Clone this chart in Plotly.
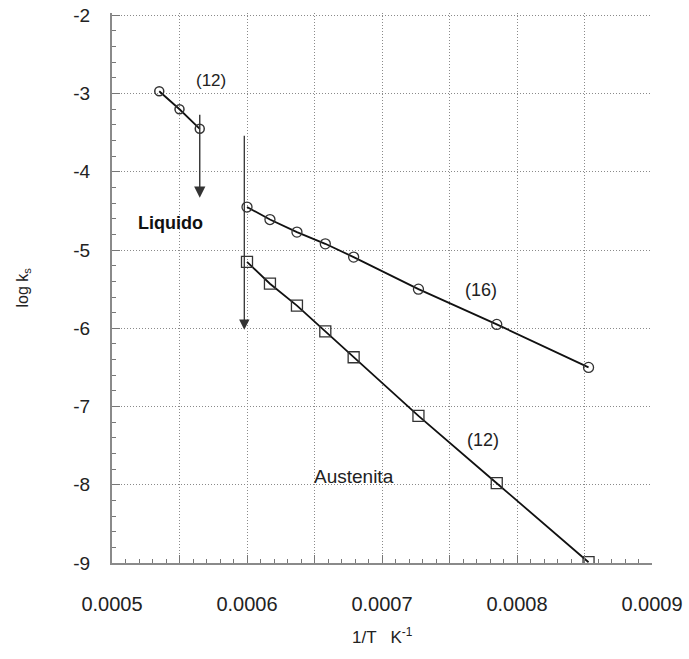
import plotly.graph_objects as go

# ---- data ----
liq_x = [0.000535, 0.00055, 0.000565]
liq_y = [-2.97, -3.20, -3.45]

s16_x = [0.0006, 0.000617, 0.000637, 0.000658, 0.000679, 0.000727, 0.000785, 0.000853]
s16_y = [-4.45, -4.61, -4.77, -4.92, -5.09, -5.50, -5.95, -6.50]

aus_x = [0.0006, 0.000617, 0.000637, 0.000658, 0.000679, 0.000727, 0.000785, 0.000853]
aus_y = [-5.15, -5.43, -5.71, -6.04, -6.37, -7.12, -7.98, -8.99]

x_ticks = [0.0005, 0.0006, 0.0007, 0.0008, 0.0009]
x_ticklabels = ["0.0005", "0.0006", "0.0007", "0.0008", "0.0009"]
y_ticks = [-2, -3, -4, -5, -6, -7, -8, -9]
y_ticklabels = ["-2", "-3", "-4", "-5", "-6", "-7", "-8", "-9"]

FONT = "Liberation Sans, Arial, sans-serif"
LINE = "#111111"
MARK = "#333333"
GRID = "#8a8a8a"
DOT = "1px,2px"

fig = go.Figure()

fig.add_trace(go.Scatter(x=liq_x, y=liq_y, mode="lines+markers",
                         line=dict(color=LINE, width=1.8),
                         marker=dict(symbol="circle-open", size=9, color=MARK,
                                     line=dict(width=1.5, color=MARK)),
                         showlegend=False))
fig.add_trace(go.Scatter(x=s16_x, y=s16_y, mode="lines+markers",
                         line=dict(color=LINE, width=1.8),
                         marker=dict(symbol="circle-open", size=10, color=MARK,
                                     line=dict(width=1.3, color=MARK)),
                         showlegend=False))
fig.add_trace(go.Scatter(x=aus_x, y=aus_y, mode="lines+markers",
                         line=dict(color=LINE, width=1.8),
                         marker=dict(symbol="square-open", size=11, color=MARK,
                                     line=dict(width=1.3, color=MARK)),
                         showlegend=False))
# invisible trace to hold the fine-tick overlay axis
fig.add_trace(go.Scatter(x=[x_ticks[0]], y=[y_ticks[0]], xaxis="x2", mode="markers",
                         marker=dict(opacity=0), showlegend=False, hoverinfo="skip"))

xr = [0.0005, 0.0009]
yr = [-9, -1.97]

fig.update_layout(
    width=689, height=659,
    margin=dict(l=112, r=37, t=13, b=96),
    paper_bgcolor="white", plot_bgcolor="white",
    font=dict(family=FONT, color="#222222"),
    xaxis=dict(
        range=xr, tickmode="array", tickvals=x_ticks, ticktext=x_ticklabels,
        automargin=False, ticklabeloverflow="allow",
        showgrid=True, gridcolor=GRID, griddash=DOT, gridwidth=1,
        showline=True, linecolor="#8a8a8a", linewidth=2,
        ticks="inside", ticklen=8, tickcolor="#777777",
        tickfont=dict(size=20, family=FONT, color="#222222"),
        ticklabelstandoff=22,
        minor=dict(dtick=0.00005, tick0=0.0005, showgrid=True, gridcolor=GRID,
                   griddash=DOT, gridwidth=1, ticks="inside", ticklen=8,
                   tickcolor="#777777"),
        zeroline=False, mirror=False,
    ),
    xaxis2=dict(
        range=xr, overlaying="x", anchor="y", side="bottom", automargin=False,
        showticklabels=False, showgrid=False, showline=False, zeroline=False,
        tickmode="linear", tick0=0.0005, dtick=0.00001,
        ticks="inside", ticklen=4, tickcolor="#777777",
    ),
    yaxis=dict(
        range=yr, tickmode="array", tickvals=y_ticks, ticktext=y_ticklabels,
        automargin=False, ticklabeloverflow="allow",
        showgrid=True, gridcolor=GRID, griddash=DOT, gridwidth=1,
        showline=True, linecolor="#8a8a8a", linewidth=2,
        ticks="inside", ticklen=8, tickcolor="#777777",
        tickfont=dict(size=19, family=FONT, color="#222222"),
        ticklabelstandoff=16,
        minor=dict(dtick=0.2, tick0=-9, ticks="inside", ticklen=4, tickcolor="#777777",
                   showgrid=False),
        zeroline=False,
    ),
)

# axis titles
fig.add_annotation(x=0.5, y=-0.133, xref="paper", yref="paper", yanchor="middle",
                   text="1/T   K<sup>-1</sup>", showarrow=False,
                   font=dict(size=17, family=FONT, color="#222222"))
fig.add_annotation(x=-0.187, y=0.5, xref="paper", yref="paper", textangle=-90,
                   text="log k<sub>s</sub>", showarrow=False,
                   font=dict(size=16, family=FONT, color="#222222"))

# arrows
fig.add_annotation(x=0.000565, y=-4.33, ax=0.000565, ay=-3.25, xref="x", yref="y",
                   axref="x", ayref="y", text="", showarrow=True, arrowhead=2,
                   arrowsize=1.6, arrowwidth=1.4, arrowcolor="#333333")
fig.add_annotation(x=0.000598, y=-6.02, ax=0.000598, ay=-3.52, xref="x", yref="y",
                   axref="x", ayref="y", text="", showarrow=True, arrowhead=2,
                   arrowsize=1.6, arrowwidth=1.3, arrowcolor="#333333")

# text labels
fig.add_annotation(x=0.000573, y=-2.83, text="(12)", showarrow=False,
                   font=dict(size=17, family=FONT, color="#222222"))
fig.add_annotation(x=0.000543, y=-4.66, text="<b>Liquido</b>", showarrow=False,
                   font=dict(size=18, family=FONT, color="#111111"))
fig.add_annotation(x=0.000773, y=-5.51, text="(16)", showarrow=False,
                   font=dict(size=18, family=FONT, color="#222222"))
fig.add_annotation(x=0.000775, y=-7.43, text="(12)", showarrow=False,
                   font=dict(size=18, family=FONT, color="#222222"))
fig.add_annotation(x=0.000679, y=-7.90, text="Austenita", showarrow=False,
                   font=dict(size=19, family=FONT, color="#222222"))

fig.write_html("out.html", config={"displayModeBar": False},
               post_script="document.body.style.margin='0px';")
